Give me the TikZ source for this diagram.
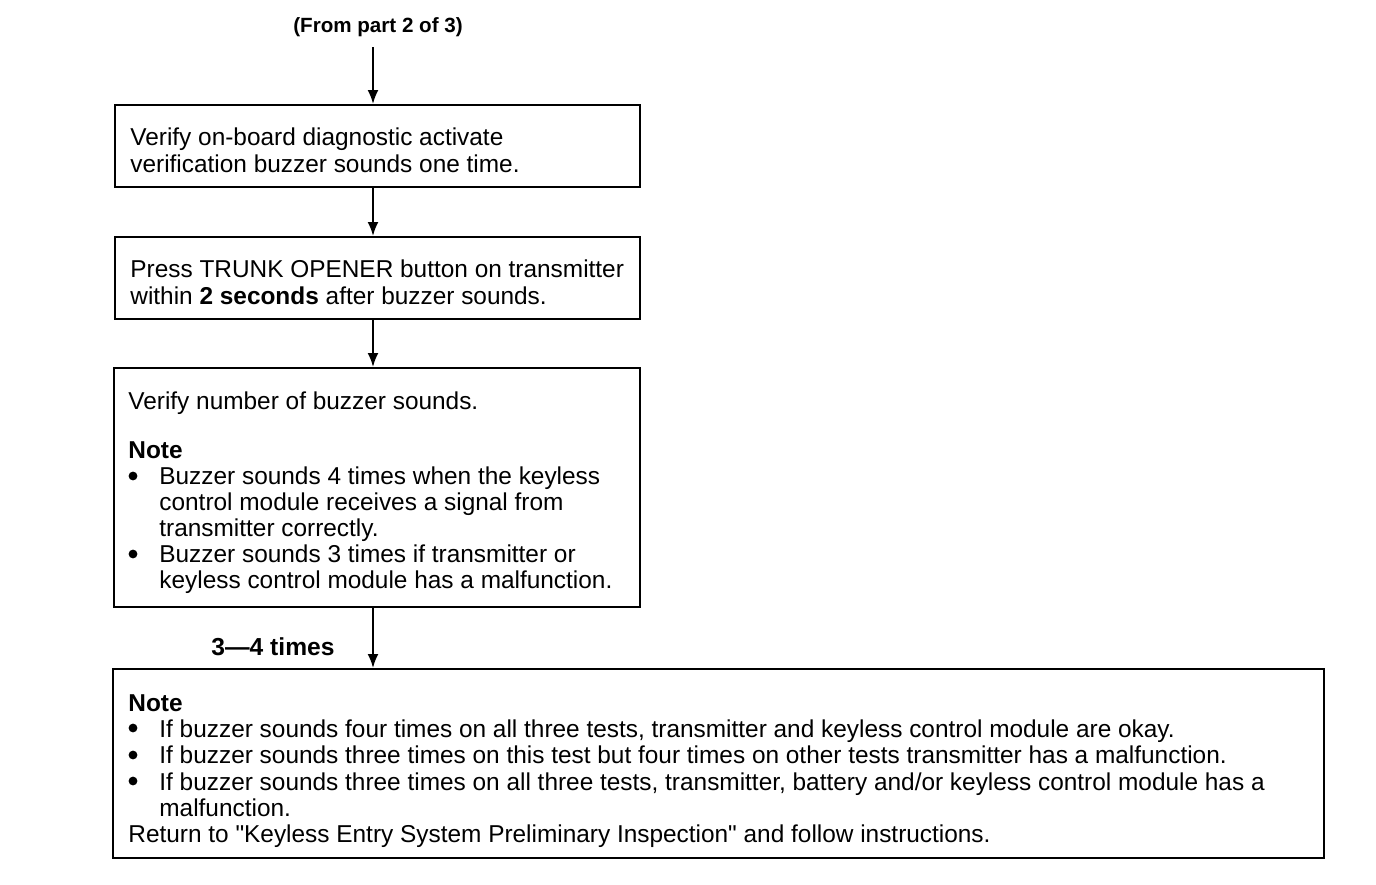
\documentclass[tikz,border=0pt]{standalone}
\usepackage{fontspec}
\setmainfont{Liberation Sans}
\newfontfamily\qf{Liberation Sans}
\usetikzlibrary{arrows.meta}
\newcommand{\hang}{\hspace*{15.5pt}}
\newcommand{\dq}{{\qf"}}
\begin{document}
\begin{tikzpicture}[x=0.5pt,y=-0.5pt,
  box/.style={draw,line width=1pt,inner sep=0pt},
  txt/.style={anchor=north west,inner sep=0pt,align=left,font=\fontsize{12.2}{13}\selectfont},
  arr/.style={line width=1pt,-{Latex[length=7pt,width=5.5pt]}},
  dot/.style={fill=black},
  ]
\useasboundingbox (0,0) rectangle (1376,884);
\coordinate (ax) at (373,0);
% boxes
\node[box,minimum width=262.5pt,minimum height=41pt] (b1) at (377.5,146) {};
\node[box,minimum width=262.5pt,minimum height=41pt] (b2) at (377.5,278) {};
\node[box,minimum width=263pt,minimum height=119.5pt] (b3) at (377,487.5) {};
\node[box,minimum width=605.5pt,minimum height=94.5pt] (b4) at (718.5,763.5) {};
% labels
\node[font=\bfseries\fontsize{10.3}{12}\selectfont] (src) at (378,27) {(From part 2 of 3)};
\node[font=\bfseries\fontsize{12.3}{14}\selectfont] (lbl) at (273,647) {3—4 times};
% texts
\node[txt,font=\fontsize{12.2}{13.5}\selectfont] (t1) at (130,127) {\rule{0pt}{9pt}Verify on-board diagnostic activate\\verification buzzer sounds one time.};
\node[txt,font=\fontsize{12.2}{13.5}\selectfont] (t2) at (130,259) {\rule{0pt}{9pt}Press TRUNK OPENER button on transmitter\\within \textbf{2 seconds} after buzzer sounds.};
\node[txt] (t3) at (128,391) {\rule{0pt}{9pt}Verify number of buzzer sounds.\\[11.5pt]
\textbf{Note}\\
\hang Buzzer sounds 4 times when the keyless\\
\hang control module receives a signal from\\
\hang transmitter correctly.\\
\hang Buzzer sounds 3 times if transmitter or\\
\hang keyless control module has a malfunction.};
\node[txt,font=\fontsize{12.2}{13.1}\selectfont] (t4) at (128,693) {\rule{0pt}{9pt}\textbf{Note}\\
\hang If buzzer sounds four times on all three tests, transmitter and keyless control module are okay.\\
\hang If buzzer sounds three times on this test but four times on other tests transmitter has a malfunction.\\
\hang If buzzer sounds three times on all three tests, transmitter, battery and/or keyless control module has a\\
\hang malfunction.\\
Return to \dq Keyless Entry System Preliminary Inspection\dq{} and follow instructions.};
% bullets
\fill[dot] (133,476) circle (2.2pt);
\fill[dot] (133,554) circle (2.2pt);
\fill[dot] (133,728) circle (2.2pt);
\fill[dot] (133,755) circle (2.2pt);
\fill[dot] (133,781) circle (2.2pt);
% connectors
\coordinate (s) at (373,47);
\draw[arr] (s) -- (b1.north -| ax);
\draw[arr] (b1.south -| ax) -- (b2.north -| ax);
\draw[arr] (b2.south -| ax) -- (b3.north -| ax);
\draw[arr] (b3.south -| ax) -- (b4.north -| ax);
\end{tikzpicture}
\end{document}
